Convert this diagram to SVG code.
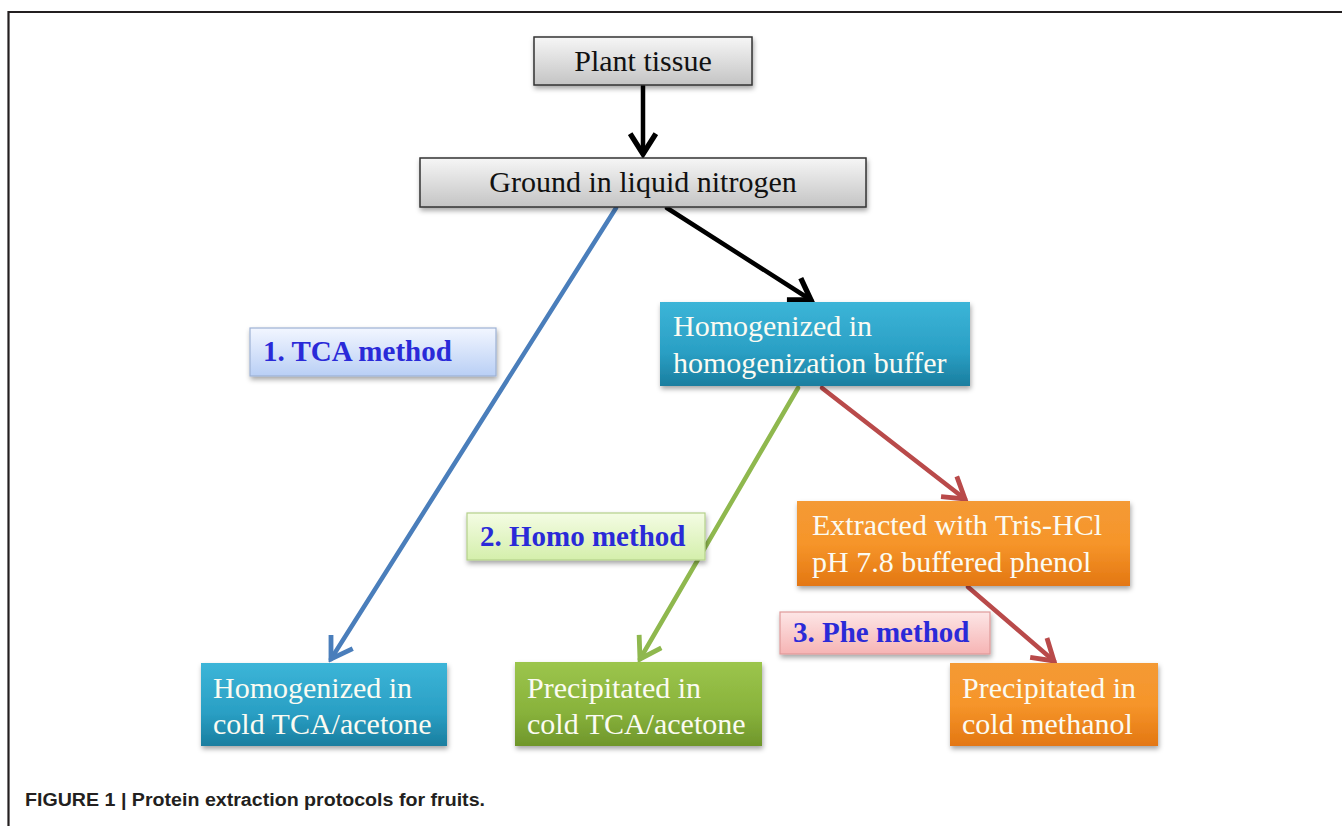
<svg xmlns="http://www.w3.org/2000/svg" width="1342" height="826" viewBox="0 0 1342 826">
<defs>
<style>
.serif{font-family:"Liberation Serif","Times New Roman",serif;font-size:30px}
.wt{fill:#fbfbf2}
.dk{fill:#111}
.lbl{font-family:"Liberation Serif","Times New Roman",serif;font-size:29px;font-weight:bold;fill:#2a2ad8}
.conn{fill:none;stroke-width:4.5;stroke-linecap:round}
</style>
<linearGradient id="gGray" x1="0" y1="0" x2="0" y2="1"><stop offset="0" stop-color="#f6f6f6"/><stop offset="1" stop-color="#c4c4c4"/></linearGradient>
<linearGradient id="gTeal" x1="0" y1="0" x2="0" y2="1"><stop offset="0" stop-color="#3cb5d8"/><stop offset="0.6" stop-color="#2a9fc4"/><stop offset="1" stop-color="#1a7e9f"/></linearGradient>
<linearGradient id="gOrange" x1="0" y1="0" x2="0" y2="1"><stop offset="0" stop-color="#f49a35"/><stop offset="0.5" stop-color="#f6952a"/><stop offset="1" stop-color="#e37712"/></linearGradient>
<linearGradient id="gGreen" x1="0" y1="0" x2="0" y2="1"><stop offset="0" stop-color="#9cc54c"/><stop offset="0.6" stop-color="#88b23b"/><stop offset="1" stop-color="#6f962b"/></linearGradient>
<linearGradient id="gLBlue" x1="0" y1="0" x2="0" y2="1"><stop offset="0" stop-color="#f2f6ff"/><stop offset="1" stop-color="#b9cff5"/></linearGradient>
<linearGradient id="gLGreen" x1="0" y1="0" x2="0" y2="1"><stop offset="0" stop-color="#f4fce4"/><stop offset="1" stop-color="#d4efab"/></linearGradient>
<linearGradient id="gPink" x1="0" y1="0" x2="0" y2="1"><stop offset="0" stop-color="#fde6e6"/><stop offset="1" stop-color="#f6b4b4"/></linearGradient>
<filter id="sh" x="-10%" y="-20%" width="120%" height="150%"><feDropShadow dx="1" dy="3" stdDeviation="2.5" flood-color="#000" flood-opacity="0.35"/></filter>
<marker id="aBlack" markerUnits="userSpaceOnUse" markerWidth="30" markerHeight="30" viewBox="-24 -14 28 28" refX="0" refY="0" orient="auto"><path d="M-19,-12 L0,0 L-19,12" fill="none" stroke="#000" stroke-width="5"/></marker>
<marker id="aBlue" markerUnits="userSpaceOnUse" markerWidth="30" markerHeight="30" viewBox="-24 -14 28 28" refX="0" refY="0" orient="auto"><path d="M-19,-12 L0,0 L-19,12" fill="none" stroke="#4a7ebb" stroke-width="4.5"/></marker>
<marker id="aGreen" markerUnits="userSpaceOnUse" markerWidth="30" markerHeight="30" viewBox="-24 -14 28 28" refX="0" refY="0" orient="auto"><path d="M-19,-12 L0,0 L-19,12" fill="none" stroke="#8fb84e" stroke-width="4.5"/></marker>
<marker id="aRed" markerUnits="userSpaceOnUse" markerWidth="30" markerHeight="30" viewBox="-24 -14 28 28" refX="0" refY="0" orient="auto"><path d="M-19,-12 L0,0 L-19,12" fill="none" stroke="#b94a4a" stroke-width="4.5"/></marker>
</defs>
<rect width="1342" height="826" fill="#fff"/>
<path d="M8.5,826 L8.5,12 L1342,12" fill="none" stroke="#231f20" stroke-width="2.2"/>

<g id="connectors">
<line class="conn" x1="643" y1="86" x2="643" y2="154" stroke="#000" stroke-width="5" marker-end="url(#aBlack)"/>
<line class="conn" x1="667" y1="208" x2="811" y2="300" stroke="#000" stroke-width="5" marker-end="url(#aBlack)"/>
<line class="conn" x1="616" y1="208" x2="331" y2="659" stroke="#4a7ebb" marker-end="url(#aBlue)"/>
<line class="conn" x1="798" y1="388" x2="640" y2="659" stroke="#8fb84e" marker-end="url(#aGreen)"/>
<line class="conn" x1="822" y1="388" x2="965" y2="499" stroke="#b94a4a" marker-end="url(#aRed)"/>
<line class="conn" x1="968" y1="587" x2="1054" y2="661" stroke="#b94a4a" marker-end="url(#aRed)"/>
</g>

<g id="plant-tissue">
<rect x="534" y="37" width="218" height="48" fill="url(#gGray)" stroke="#333" stroke-width="1.5" filter="url(#sh)"/>
<text class="serif dk" x="643" y="71" text-anchor="middle">Plant tissue</text>
</g>

<g id="ground">
<rect x="420" y="158" width="446" height="49" fill="url(#gGray)" stroke="#333" stroke-width="1.5" filter="url(#sh)"/>
<text class="serif dk" x="643" y="192" text-anchor="middle">Ground in liquid nitrogen</text>
</g>

<g id="tca-label">
<rect x="250" y="328" width="246" height="48" fill="url(#gLBlue)" stroke="#9db1d4" stroke-width="1.2" filter="url(#sh)"/>
<text class="lbl" x="263" y="361">1. TCA method</text>
</g>

<g id="homog-buffer">
<rect x="660" y="302" width="310" height="84" fill="url(#gTeal)" filter="url(#sh)"/>
<text class="serif wt" x="673" y="336">Homogenized in</text>
<text class="serif wt" x="673" y="373">homogenization buffer</text>
</g>

<g id="homo-label">
<rect x="467" y="513" width="238" height="47" fill="url(#gLGreen)" stroke="#b4d08a" stroke-width="1.2" filter="url(#sh)"/>
<text class="lbl" x="480" y="546">2. Homo method</text>
</g>

<g id="extracted">
<rect x="797" y="501" width="333" height="85" fill="url(#gOrange)" filter="url(#sh)"/>
<text class="serif wt" x="812" y="535">Extracted with Tris-HCl</text>
<text class="serif wt" x="812" y="572">pH 7.8 buffered phenol</text>
</g>

<g id="phe-label">
<rect x="780" y="612" width="210" height="42" fill="url(#gPink)" stroke="#e09a9a" stroke-width="1.2" filter="url(#sh)"/>
<text class="lbl" x="793" y="642">3. Phe method</text>
</g>

<g id="cold-tca">
<rect x="201" y="663" width="246" height="83" fill="url(#gTeal)" filter="url(#sh)"/>
<text class="serif wt" x="213" y="698">Homogenized in</text>
<text class="serif wt" x="213" y="734">cold TCA/acetone</text>
</g>

<g id="precip-tca">
<rect x="515" y="662" width="247" height="84" fill="url(#gGreen)" filter="url(#sh)"/>
<text class="serif wt" x="527" y="698">Precipitated in</text>
<text class="serif wt" x="527" y="734">cold TCA/acetone</text>
</g>

<g id="precip-methanol">
<rect x="950" y="663" width="208" height="83" fill="url(#gOrange)" filter="url(#sh)"/>
<text class="serif wt" x="962" y="698">Precipitated in</text>
<text class="serif wt" x="962" y="734">cold methanol</text>
</g>

<text x="25" y="806" font-family="'Liberation Sans',Arial,sans-serif" font-size="17.5" font-weight="bold" fill="#231f20" textLength="460" lengthAdjust="spacingAndGlyphs">FIGURE 1 | Protein extraction protocols for fruits.</text>
</svg>
